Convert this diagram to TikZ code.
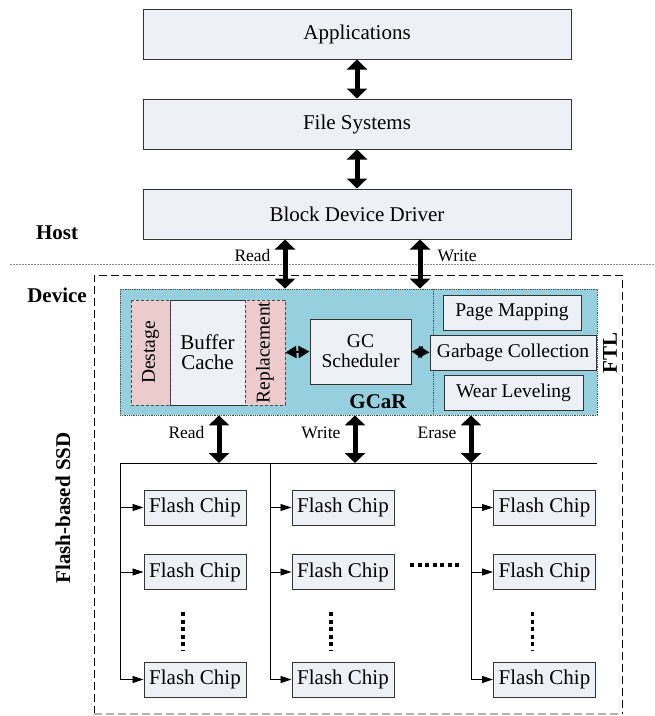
\documentclass[tikz,border=0pt]{standalone}
\usepackage{fontspec}
\setmainfont{Liberation Serif}
\usetikzlibrary{arrows.meta,positioning}
\definecolor{boxfill}{HTML}{EDF0F5}
\definecolor{gcarblue}{HTML}{96D0DE}
\definecolor{pinkfill}{HTML}{EBCBCB}
\tikzset{
  big/.style={font=\fontsize{21}{23}\selectfont},
  mid/.style={font=\fontsize{19.5}{20}\selectfont},
  small/.style={font=\fontsize{17.5}{19}\selectfont},
  bold/.style={font=\fontsize{21}{23}\selectfont\bfseries},
  layer/.style={draw=black!80, line width=1pt, fill=boxfill, inner sep=0pt,
    minimum width=428pt, minimum height=50pt, big},
  chip/.style={draw=black!80, line width=1pt, fill=boxfill, inner sep=0pt,
    minimum width=102pt, minimum height=35pt, big},
  ftlbox/.style={draw=black!80, line width=1pt, fill=boxfill, inner sep=0pt,
    minimum height=35pt, mid},
  side/.style={draw=black!70, densely dashed, line width=0.8pt, fill=pinkfill,
    inner sep=0pt, minimum height=105pt, rotate=90, mid},
  dblarrow/.style={line width=5pt,
    arrows={Triangle[width=20pt,length=10pt]-Triangle[width=20pt,length=10pt]}},
  tinyarrow/.style={line width=2pt,
    arrows={Triangle[width=12pt,length=11pt]-Triangle[width=12pt,length=11pt]}},
  branch/.style={line width=0.8pt, -{Triangle[width=7pt,length=11pt]}},
  dots/.style={line width=3.5pt, dash pattern=on 4pt off 3.5pt},
}
\begin{document}
\begin{tikzpicture}[x=1pt,y=-1pt]
\useasboundingbox (0,0) rectangle (655,716);

% host side
\node[layer] (app) at (357,34) {Applications};
\node[layer] (fs) at (357,124) {File Systems};
\node[layer] (bdd) at (357,214) {Block Device Driver};
\draw[dblarrow] (app) -- (fs);
\draw[dblarrow] (fs) -- (bdd);

\node[bold] (host) at (57,233) {Host};
\node[bold] (device) at (57,295) {Device};
\coordinate (sep-w) at (10,264);
\coordinate (sep-e) at (655,264);
\draw[black!45, line width=0.8pt, dash pattern=on 2pt off 1pt] (sep-w) -- (sep-e);

% device frame
\coordinate (dev-nw) at (94,275);
\coordinate (dev-ne) at (622,275);
\coordinate (dev-sw) at (94,714);
\coordinate (dev-se) at (622,714);
\draw[line width=0.8pt, dash pattern=on 8pt off 4pt] (dev-sw) -- (dev-nw) -- (dev-ne) -- (dev-se);
\draw[black!30, line width=1.2pt, dash pattern=on 8pt off 4pt] (dev-sw) -- (dev-se);
\node[bold, rotate=90] (ssd) at (63,508) {Flash-based SSD};

% GCaR + FTL
\node[draw=black!70, densely dotted, line width=0.8pt, fill=gcarblue, inner sep=0pt,
  minimum width=477pt, minimum height=126pt] (gcar) at (358.5,352) {};
\coordinate (div-n) at (433,289);
\coordinate (div-s) at (433,415);
\draw[black!70, densely dotted, line width=0.8pt] (div-n) -- (div-s);

\node[draw=black!80, line width=1pt, fill=boxfill, inner sep=0pt,
  minimum width=75pt, minimum height=105pt, align=center, big] (buf) at (207.5,352.5) {Buffer\\[-3pt]Cache};
\node[side, minimum width=105pt, minimum height=39pt] (destage) at (150.5,352.5) {Destage};
\node[side, minimum width=105pt, minimum height=40pt] (repl) at (265,352.5) {Replacement};
\node[draw=black!80, line width=1pt, fill=boxfill, inner sep=0pt, align=center,
  minimum width=101pt, minimum height=65pt, mid] (gcs) at (360.5,351.5) {GC\\Scheduler};

\node[ftlbox, minimum width=138pt] (pm) at (512,312.5) {Page Mapping};
\node[ftlbox, minimum width=166pt] (gc) at (513,352.5) {Garbage Collection};
\node[ftlbox, minimum width=139pt] (wl) at (513.5,392.5) {Wear Leveling};
\draw[tinyarrow] (repl.south) -- (gcs.west);
\draw[tinyarrow] (gcs.east) -- (gc.west);

\node[bold] (gcarlbl) at (378,402) {GCaR};
\node[bold, rotate=90] (ftl) at (610,353) {FTL};

% host <-> device
\coordinate (rd-top) at (285,0);
\coordinate (wr-top) at (420,0);
\draw[dblarrow] (bdd.south -| rd-top) -- (gcar.north -| rd-top);
\draw[dblarrow] (bdd.south -| wr-top) -- (gcar.north -| wr-top);
\node[small, anchor=east] (rdlbl) at (274,256) {Read};
\node[small, anchor=west] (wrlbl) at (434,256) {Write};

% flash bus
\coordinate (bus-w) at (120,463);
\coordinate (bus-e) at (597,463);
\draw[line width=0.9pt] (bus-w) -- (bus-e);
\foreach \x/\name in {219/Read, 355/Write, 471/Erase}{
  \coordinate (op-\name) at (\x,463);
  \draw[dblarrow] (gcar.south -| op-\name) -- (op-\name);
  \node[small, anchor=east] (lbl-\name) at (\x-11,433) {\name};
}

% flash chips
\foreach \c/\lx/\cx in {1/120/195, 2/270/343, 3/471/544.5}{
  \coordinate (col-\c) at (\lx,463);
  \node[chip] (chip-\c-1) at (\cx,507.5) {Flash Chip};
  \node[chip] (chip-\c-2) at (\cx,572) {Flash Chip};
  \node[chip] (chip-\c-3) at (\cx,679.5) {Flash Chip};
  \draw[line width=0.9pt] (col-\c) -- (col-\c |- chip-\c-3);
  \foreach \r in {1,2,3}
    \draw[branch] (col-\c |- chip-\c-\r) -- (chip-\c-\r.west);
  \coordinate (dot-\c-n) at (\cx-12,612);
  \coordinate (dot-\c-s) at (\cx-12,651);
  \draw[dots] (dot-\c-n) -- (dot-\c-s);
}
\coordinate (hdot-w) at (410,565);
\coordinate (hdot-e) at (459,565);
\draw[dots] (hdot-w) -- (hdot-e);
\end{tikzpicture}
\end{document}
